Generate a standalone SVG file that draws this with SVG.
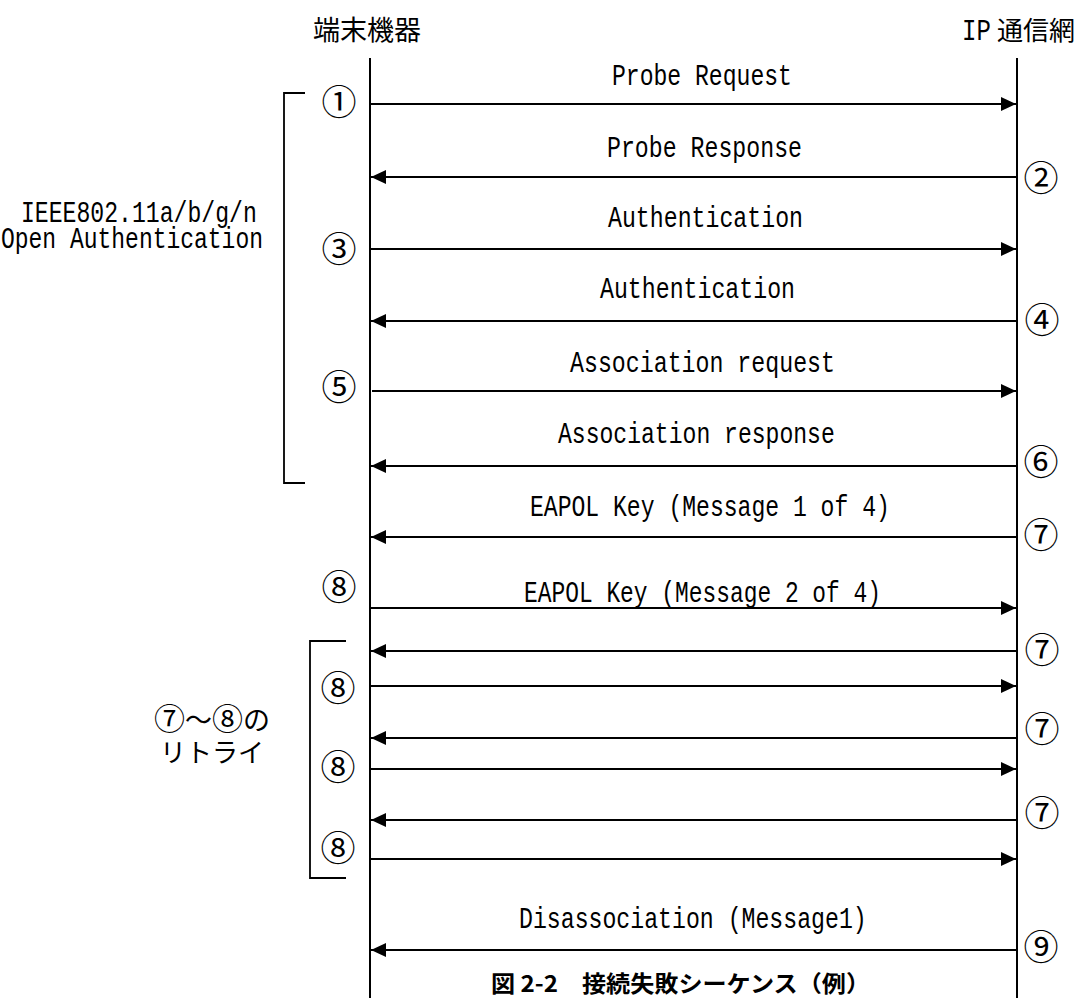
<svg xmlns="http://www.w3.org/2000/svg" width="1076" height="998" viewBox="0 0 1076 998">
<style>
.ll{stroke:#000;stroke-width:2;fill:none}
.msg{stroke:#000;stroke-width:2;fill:none;marker-end:url(#ah)}
.br{stroke:#000;stroke-width:1.8;fill:none}
.lat{font-family:"Liberation Mono","DejaVu Sans Mono",monospace;font-size:30px;fill:#000}
.jp{font-family:"Noto Sans CJK JP","Noto Sans CJK SC",sans-serif;fill:#000}
.num{font-family:"Noto Sans CJK JP","Noto Sans CJK SC",sans-serif;font-size:35px;fill:#000;text-anchor:middle}
</style>
<defs>
<marker id="ah" markerWidth="16" markerHeight="14" refX="15" refY="7" orient="auto" markerUnits="userSpaceOnUse">
<path d="M0,0 L15,7 L0,14 Z" fill="#000"/>
</marker>
</defs>
<rect x="0" y="0" width="1076" height="998" fill="#fff"/>

<g id="terminal">
<text class="jp" x="313" y="40" font-size="27" textLength="108" lengthAdjust="spacingAndGlyphs">端末機器</text>
<line class="ll" x1="370" y1="58" x2="370" y2="998"/>
</g>
<g id="ipnet">
<text class="lat" transform="translate(962,40) scale(0.8,1)" x="0" y="0" font-size="28">IP</text>
<text class="jp" x="997" y="40" font-size="26" textLength="78" lengthAdjust="spacingAndGlyphs">通信網</text>
<line class="ll" x1="1017" y1="58" x2="1017" y2="998"/>
</g>

<g id="open-auth-group">
<path class="br" d="M305,93 H284 V483 H305"/>
<text class="lat" transform="translate(21,222) scale(0.771,1)" x="0" y="0">IEEE802.11a/b/g/n</text>
<text class="lat" transform="translate(1,248) scale(0.766,1)" x="0" y="0">Open Authentication</text>
</g>

<g id="retry-group">
<path class="br" d="M346,641 H310 V878 H346"/>
<text class="jp" x="212" y="730" font-size="27" text-anchor="middle"><tspan font-size="31">⑦</tspan>～<tspan font-size="31">⑧</tspan>の</text>
<text class="jp" x="212" y="762" font-size="26" text-anchor="middle">リトライ</text>
</g>

<g id="connectors">
<line class="msg" x1="370" y1="104" x2="1016" y2="104"/>
<line class="msg" x1="1017" y1="177" x2="371" y2="177"/>
<line class="msg" x1="370" y1="249" x2="1016" y2="249"/>
<line class="msg" x1="1017" y1="321" x2="371" y2="321"/>
<line class="msg" x1="372" y1="391" x2="1016" y2="391"/>
<line class="msg" x1="1017" y1="466" x2="371" y2="466"/>
<line class="msg" x1="1017" y1="537" x2="371" y2="537"/>
<line class="msg" x1="370" y1="608" x2="1016" y2="608"/>
<line class="msg" x1="1017" y1="651" x2="371" y2="651"/>
<line class="msg" x1="370" y1="686" x2="1016" y2="686"/>
<line class="msg" x1="1017" y1="738" x2="371" y2="738"/>
<line class="msg" x1="370" y1="769" x2="1016" y2="769"/>
<line class="msg" x1="1017" y1="820" x2="371" y2="820"/>
<line class="msg" x1="370" y1="859" x2="1016" y2="859"/>
<line class="msg" x1="1017" y1="950" x2="371" y2="950"/>
</g>

<g id="msg-labels">
<text class="lat" transform="translate(612,85) scale(0.769,1)" x="0" y="0">Probe Request</text>
<text class="lat" transform="translate(607,157) scale(0.774,1)" x="0" y="0">Probe Response</text>
<text class="lat" transform="translate(608,227) scale(0.774,1)" x="0" y="0">Authentication</text>
<text class="lat" transform="translate(600,298) scale(0.774,1)" x="0" y="0">Authentication</text>
<text class="lat" transform="translate(570,372) scale(0.775,1)" x="0" y="0">Association request</text>
<text class="lat" transform="translate(558,443) scale(0.769,1)" x="0" y="0">Association response</text>
<text class="lat" transform="translate(530,516) scale(0.769,1)" x="0" y="0">EAPOL Key (Message 1 of 4)</text>
<text class="lat" transform="translate(524,602) scale(0.763,1)" x="0" y="0">EAPOL Key (Message 2 of 4)</text>
<text class="lat" transform="translate(519,928) scale(0.773,1)" x="0" y="0">Disassociation (Message1)</text>
</g>

<g id="step-numbers">
<text class="num" x="339" y="115">①</text>
<text class="num" x="1041" y="191">②</text>
<text class="num" x="339" y="262">③</text>
<text class="num" x="1042" y="333">④</text>
<text class="num" x="339" y="400">⑤</text>
<text class="num" x="1041" y="475">⑥</text>
<text class="num" x="1041" y="548">⑦</text>
<text class="num" x="339" y="600">⑧</text>
<text class="num" x="1042" y="663">⑦</text>
<text class="num" x="338" y="701">⑧</text>
<text class="num" x="1042" y="742">⑦</text>
<text class="num" x="338" y="780">⑧</text>
<text class="num" x="1042" y="826">⑦</text>
<text class="num" x="338" y="861">⑧</text>
<text class="num" x="1041" y="960">⑨</text>
</g>

<g id="caption">
<text class="jp" x="491" y="992" font-size="23" font-weight="bold" textLength="379" lengthAdjust="spacingAndGlyphs">図 2-2　接続失敗シーケンス（例）</text>
</g>
</svg>
